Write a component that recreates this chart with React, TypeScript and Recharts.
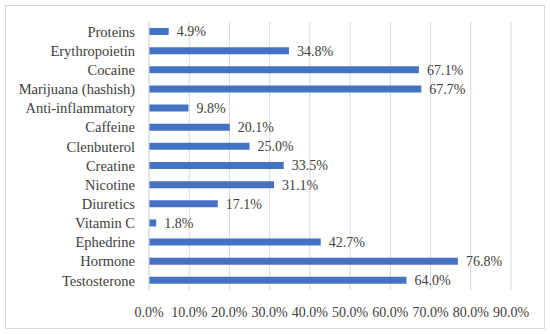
import React from "react";
import { BarChart, Bar, XAxis, YAxis, CartesianGrid, LabelList } from "recharts";

const categories = [
  "Proteins",
  "Erythropoietin",
  "Cocaine",
  "Marijuana (hashish)",
  "Anti-inflammatory",
  "Caffeine",
  "Clenbuterol",
  "Creatine",
  "Nicotine",
  "Diuretics",
  "Vitamin C",
  "Ephedrine",
  "Hormone",
  "Testosterone",
];
const values = [4.9, 34.8, 67.1, 67.7, 9.8, 20.1, 25.0, 33.5, 31.1, 17.1, 1.8, 42.7, 76.8, 64.0];
const xTicks = [0, 10, 20, 30, 40, 50, 60, 70, 80, 90];

const data = categories.map((name, i) => ({ name, value: values[i] }));

const FONT = "'Liberation Serif', 'Times New Roman', serif";
const TEXT = "#404040";

export default function App() {
  return (
    <div style={{ position: "absolute", left: 0, top: 0, width: 550, height: 334, background: "#fff" }}>
      <div
        style={{
          position: "absolute",
          left: 5,
          top: 5,
          width: 538,
          height: 322,
          border: "1px solid #d9d9d9",
        }}
      />
      <BarChart
        width={550}
        height={334}
        data={data}
        layout="vertical"
        margin={{ top: 22, right: 39, bottom: 0, left: 0 }}
        style={{ position: "absolute", left: 0, top: 0, fontFamily: FONT }}
      >
        <CartesianGrid horizontal={false} stroke="#d9d9d9" strokeWidth={1} />
        <XAxis
          type="number"
          domain={[0, 90]}
          ticks={xTicks}
          height={44}
          tickFormatter={(v: number) => `${v.toFixed(1)}%`}
          axisLine={false}
          tickLine={false}
          tickSize={0}
          tickMargin={17}
          interval={0}
          tick={{ fill: TEXT, fontSize: 14, fontFamily: FONT }}
        />
        <YAxis
          type="category"
          dataKey="name"
          width={149}
          axisLine={{ stroke: "#d9d9d9" }}
          tickLine={false}
          tickSize={0}
          tickMargin={14}
          interval={0}
          tick={{ fill: TEXT, fontSize: 14.5, fontFamily: FONT }}
        />
        <Bar dataKey="value" fill="#4472C4" barSize={7} isAnimationActive={false}>
          <LabelList
            dataKey="value"
            position="right"
            offset={8}
            formatter={(v: number) => `${v.toFixed(1)}%`}
            style={{ fill: TEXT, fontSize: 14, fontFamily: FONT }}
          />
        </Bar>
      </BarChart>
    </div>
  );
}
